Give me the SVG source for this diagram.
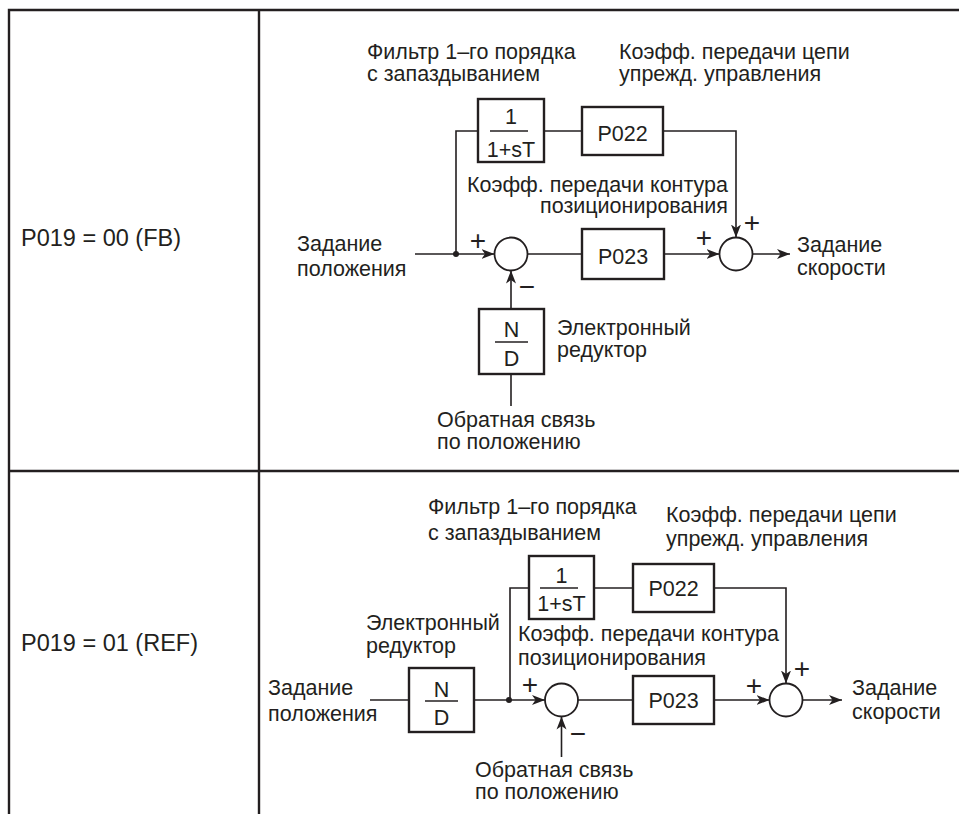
<svg xmlns="http://www.w3.org/2000/svg" width="959" height="814" viewBox="0 0 959 814">
<style>
text{font-family:"Liberation Sans",Arial,Helvetica,sans-serif;font-size:21.5px;fill:#231f20}
.lbl{font-size:23.5px}
.sign{font-size:28px;text-anchor:middle}
.mid{text-anchor:middle}
.end{text-anchor:end}
.box{fill:#fff;stroke:#231f20;stroke-width:2.4}
.sum{fill:#fff;stroke:#231f20;stroke-width:1.8}
.ln{fill:none;stroke:#231f20;stroke-width:1.6}
.frac{stroke:#231f20;stroke-width:1.6}
.grid{stroke:#231f20;stroke-width:2.4;fill:none}
.arr{fill:none;stroke:#231f20;stroke-width:1.6;marker-end:url(#ah)}
</style>
<defs>
<marker id="ah" markerUnits="userSpaceOnUse" markerWidth="14" markerHeight="12" viewBox="0 0 14 12" refX="13" refY="6" orient="auto">
<path d="M0,1 L13,6 L0,11 L3.5,6 Z" fill="#231f20"/>
</marker>
</defs>
<rect width="959" height="814" fill="#fff"/>
<g id="table">
<path class="grid" d="M9,814 V10 H959 M259,10 V814 M9,471 H959"/>
<text class="lbl" x="21" y="246">P019 = 00 (FB)</text>
<text class="lbl" x="21" y="651">P019 = 01 (REF)</text>
</g>
<g id="connectors">
<line class="arr" x1="415" y1="254" x2="494.5" y2="254"/>
<polyline class="ln" points="456,254 456,131 478,131"/>
<line class="ln" x1="544" y1="131" x2="582" y2="131"/>
<polyline class="arr" points="663,131 736,131 736,237.5"/>
<line class="ln" x1="527.5" y1="254" x2="582" y2="254"/>
<line class="arr" x1="664" y1="254" x2="719.5" y2="254"/>
<line class="arr" x1="752.5" y1="254" x2="790" y2="254"/>
<line class="arr" x1="511" y1="309" x2="511" y2="270.5"/>
<line class="ln" x1="511" y1="374" x2="511" y2="406"/>
<circle cx="456" cy="254" r="3" fill="#231f20"/>
<line class="ln" x1="370" y1="700" x2="409" y2="700"/>
<line class="arr" x1="474" y1="700" x2="545" y2="700"/>
<polyline class="ln" points="510,700 510,588 529,588"/>
<line class="ln" x1="594" y1="588" x2="633" y2="588"/>
<polyline class="arr" points="714,588 786,588 786,683.5"/>
<line class="ln" x1="578" y1="700" x2="633" y2="700"/>
<line class="arr" x1="714" y1="700" x2="769.5" y2="700"/>
<line class="arr" x1="802.5" y1="700" x2="842" y2="700"/>
<line class="arr" x1="561.5" y1="757" x2="561.5" y2="716.5"/>
<circle cx="509" cy="700" r="3" fill="#231f20"/>
</g>
<g id="top-filter">
<rect class="box" x="478" y="99" width="66" height="63"/>
<text class="mid" x="511" y="124">1</text>
<line class="frac" x1="490" y1="131" x2="528" y2="131"/>
<text class="mid" x="511" y="157">1+sT</text>
</g>
<g id="top-p022">
<rect class="box" x="582" y="107" width="81" height="48"/>
<text class="mid" x="622.5" y="141">P022</text>
</g>
<g id="top-sum1">
<circle class="sum" cx="511" cy="254" r="16.5"/>
<text class="sign" x="478" y="250">+</text>
<text class="sign" x="527" y="296">−</text>
</g>
<g id="top-p023">
<rect class="box" x="582" y="229" width="82" height="50"/>
<text class="mid" x="623" y="264">P023</text>
</g>
<g id="top-sum2">
<circle class="sum" cx="736" cy="254" r="16.5"/>
<text class="sign" x="752" y="232">+</text>
<text class="sign" x="704" y="247">+</text>
</g>
<g id="top-nd">
<rect class="box" x="479" y="309" width="65" height="65"/>
<text class="mid" x="511.5" y="337">N</text>
<line class="frac" x1="495" y1="342" x2="528" y2="342"/>
<text class="mid" x="511.5" y="366">D</text>
</g>
<g id="top-labels">
<text x="367" y="59">Фильтр 1–го порядка</text>
<text x="367" y="81">с запаздыванием</text>
<text x="619" y="59">Коэфф. передачи цепи</text>
<text x="619" y="81">упрежд. управления</text>
<text class="end" x="728" y="192">Коэфф. передачи контура</text>
<text class="end" x="728" y="213">позиционирования</text>
<text x="297" y="251">Задание</text>
<text x="297" y="276">положения</text>
<text x="797" y="252">Задание</text>
<text x="797" y="275">скорости</text>
<text x="557" y="335">Электронный</text>
<text x="557" y="357">редуктор</text>
<text x="437" y="427">Обратная связь</text>
<text x="437" y="449">по положению</text>
</g>
<g id="bot-filter">
<rect class="box" x="529" y="556" width="65" height="63"/>
<text class="mid" x="561.5" y="583">1</text>
<line class="frac" x1="540" y1="588" x2="578" y2="588"/>
<text class="mid" x="561.5" y="611">1+sT</text>
</g>
<g id="bot-p022">
<rect class="box" x="633" y="564" width="81" height="48"/>
<text class="mid" x="673.5" y="596">P022</text>
</g>
<g id="bot-nd">
<rect class="box" x="409" y="668" width="65" height="64"/>
<text class="mid" x="441.5" y="697">N</text>
<line class="frac" x1="425" y1="701" x2="458" y2="701"/>
<text class="mid" x="441.5" y="725">D</text>
</g>
<g id="bot-sum1">
<circle class="sum" cx="561.5" cy="700" r="16.5"/>
<text class="sign" x="530" y="694">+</text>
<text class="sign" x="578" y="743">−</text>
</g>
<g id="bot-p023">
<rect class="box" x="633" y="676" width="81" height="48"/>
<text class="mid" x="673.5" y="708">P023</text>
</g>
<g id="bot-sum2">
<circle class="sum" cx="786" cy="700" r="16.5"/>
<text class="sign" x="802" y="678">+</text>
<text class="sign" x="754" y="695">+</text>
</g>
<g id="bot-labels">
<text x="428" y="514">Фильтр 1–го порядка</text>
<text x="428" y="540">с запаздыванием</text>
<text x="666" y="522">Коэфф. передачи цепи</text>
<text x="666" y="546">упрежд. управления</text>
<text x="518" y="641">Коэфф. передачи контура</text>
<text x="518" y="665">позиционирования</text>
<text x="366" y="630">Электронный</text>
<text x="366" y="653">редуктор</text>
<text x="268" y="695">Задание</text>
<text x="268" y="721">положения</text>
<text x="852" y="695">Задание</text>
<text x="852" y="719">скорости</text>
<text x="475" y="777">Обратная связь</text>
<text x="475" y="799">по положению</text>
</g>
</svg>
